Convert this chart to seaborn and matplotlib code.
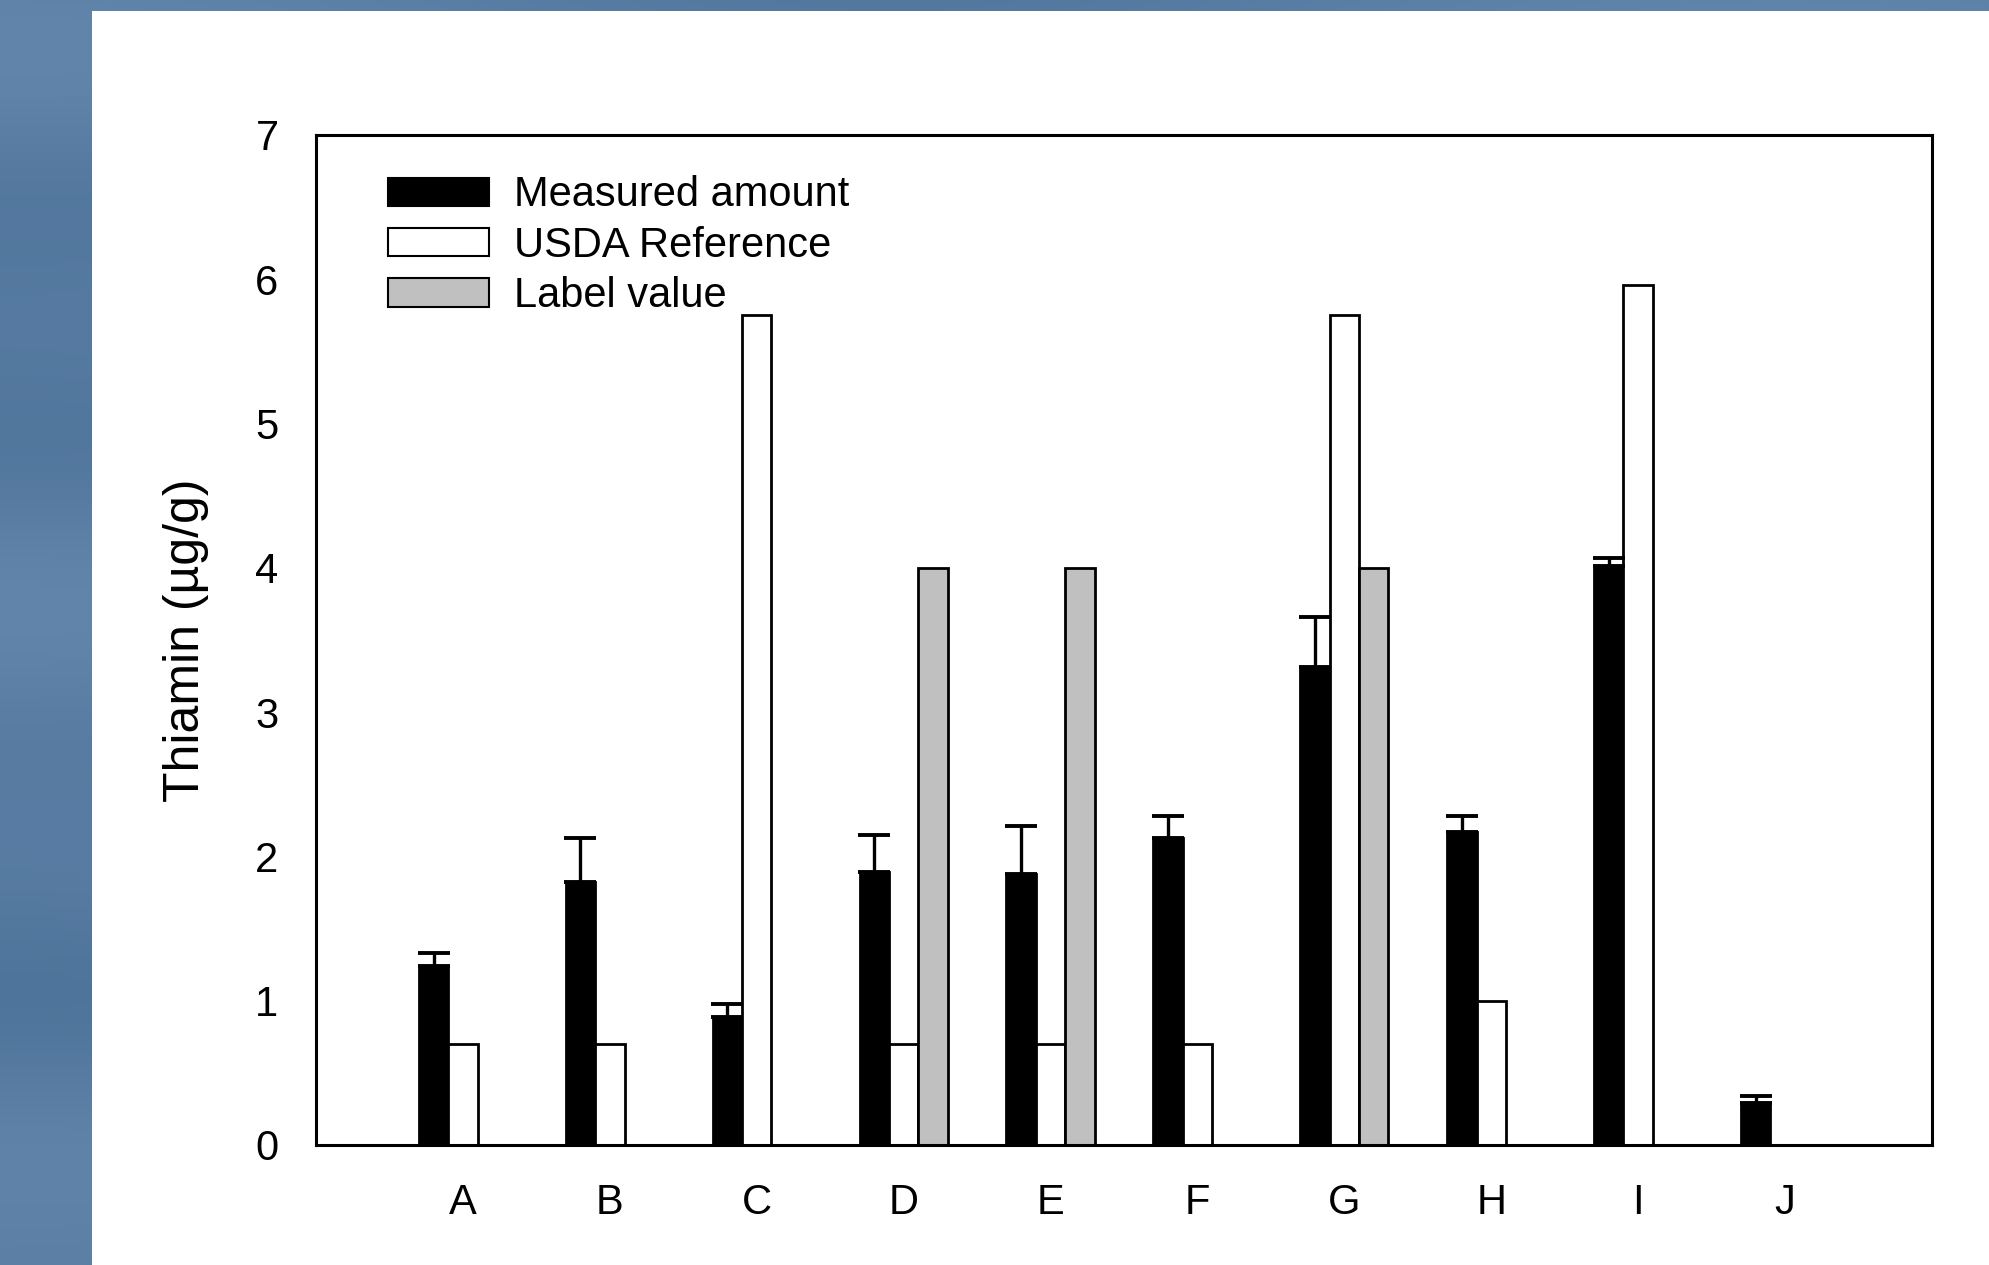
import numpy as np
import pandas as pd
import matplotlib
matplotlib.use("Agg")
import matplotlib.pyplot as plt
import seaborn as sns
from matplotlib.patches import Rectangle, Patch

# ---------------- data ----------------
categories = ["A", "B", "C", "D", "E", "F", "G", "H", "I", "J"]
measured = [1.24, 1.82, 0.89, 1.89, 1.88, 2.13, 3.31, 2.17, 4.01, 0.29]
measured_err = [0.09, 0.31, 0.09, 0.26, 0.33, 0.15, 0.35, 0.11, 0.06, 0.05]
usda = [0.70, 0.70, 5.75, 0.70, 0.70, 0.70, 5.75, 1.00, 5.96, np.nan]
label_value = [np.nan, np.nan, np.nan, 4.0, 4.0, np.nan, 4.0, np.nan, np.nan, np.nan]
series_names = ["Measured amount", "USDA Reference", "Label value"]
series_colors = ["#000000", "#ffffff", "#c0c0c0"]
y_ticks = [0, 1, 2, 3, 4, 5, 6, 7]
y_label = "Thiamin (\u00b5g/g)"

rows = []
for name, vals in zip(series_names, [measured, usda, label_value]):
    for c, v in zip(categories, vals):
        if not np.isnan(v):
            rows.append({"cat": c, "series": name, "value": v})
df = pd.DataFrame(rows)

# ---------------- figure ----------------
sns.set_theme(style="white")
plt.rcParams["font.family"] = ["Liberation Sans", "DejaVu Sans"]
plt.rcParams["text.color"] = "black"
plt.rcParams["axes.labelcolor"] = "black"
plt.rcParams["xtick.color"] = "black"
plt.rcParams["ytick.color"] = "black"

W, H = 1989, 1265
fig = plt.figure(figsize=(W / 100, H / 100), dpi=100)
fig.patch.set_facecolor("#557aa1")

# subtle background shading of the blue frame
bg = fig.add_axes([0, 0, 1, 1], zorder=-10)
yy, xx = np.mgrid[0:1:300j, 0:1:300j]
shade = (0.5 + 0.15 * np.sin(yy * 13.0 + 1.3) * np.cos(xx * 7.0)
         + 0.08 * np.sin(yy * 29.0 + 0.4))
bg.imshow(shade, cmap=matplotlib.colors.LinearSegmentedColormap.from_list(
    "b", ["#4f749b", "#6285ab"]), aspect="auto", extent=[0, 1, 0, 1])
bg.set_axis_off()
fig.patches.append(Rectangle((92 / W, 0), 1 - 92 / W, (H - 11) / H,
                             transform=fig.transFigure, facecolor="white",
                             edgecolor="none", zorder=-5))

ax = fig.add_axes([316 / W, (H - 1145) / H, (1932 - 316) / W, (1145 - 135) / H])
ax.set_facecolor("white")

sns.barplot(data=df, x="cat", y="value", hue="series", order=categories,
            hue_order=series_names, palette=series_colors, saturation=1,
            width=0.6, edgecolor="black", linewidth=2, errorbar=None,
            ax=ax, zorder=2)

# error bars on measured bars (upper only)
bars = ax.containers[0]
xs = [p.get_x() + p.get_width() / 2 for p in bars]
hs = [p.get_height() for p in bars]
ax.errorbar(xs, hs, yerr=[np.zeros(len(hs)), measured_err], fmt="none",
            ecolor="black", elinewidth=2.4, capsize=11.5, capthick=2.8,
            zorder=3)

ax.set_xlim(-1, 10)
ax.set_ylim(0, 7)
ax.set_yticks(y_ticks)
ax.set_xlabel("")
ax.set_ylabel(y_label, fontsize=36, labelpad=33, color="black")
ax.tick_params(axis="both", which="both", direction="out", length=11,
               width=2, colors="black", labelsize=30)
ax.tick_params(axis="y", pad=16)
ax.tick_params(axis="x", pad=16)
for s in ax.spines.values():
    s.set_visible(True)
    s.set_color("black")
    s.set_linewidth(2.2)

leg_handles = [Patch(facecolor=c, edgecolor="black", linewidth=1.5)
               for c in series_colors]
if ax.get_legend() is not None:
    ax.get_legend().remove()
leg = ax.legend(leg_handles, series_names, loc="upper left",
                bbox_to_anchor=(0.0446, 0.96), frameon=False, fontsize=30,
                handlelength=2.42, handleheight=0.67, handletextpad=0.6,
                labelspacing=0.25, borderpad=0, borderaxespad=0)
for t in leg.get_texts():
    t.set_color("black")

fig.savefig("out.png", dpi=100, facecolor=fig.get_facecolor())
